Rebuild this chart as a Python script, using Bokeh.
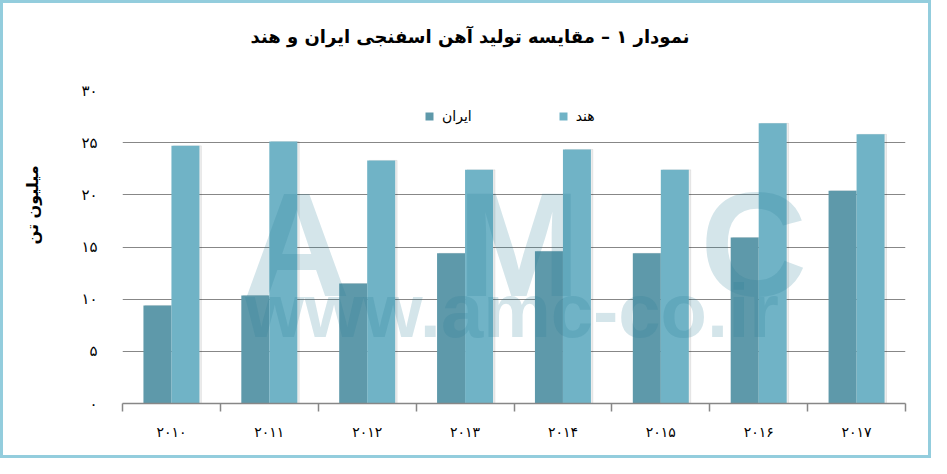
from bokeh.plotting import figure
from bokeh.models import (FixedTicker, Range1d, Legend, LegendItem, Label, Title)
from bokeh.embed import file_html
from bokeh.resources import INLINE

# ---- data ----
years = ["۲۰۱۰", "۲۰۱۱", "۲۰۱۲", "۲۰۱۳", "۲۰۱۴", "۲۰۱۵", "۲۰۱۶", "۲۰۱۷"]
iran = [9.4, 10.35, 11.5, 14.4, 14.6, 14.4, 15.9, 20.4]
india = [24.7, 25.1, 23.3, 22.4, 24.35, 22.4, 26.85, 25.8]
y_ticks = [0, 5, 10, 15, 20, 25, 30]
y_tick_labels = ["۰", "۵", "۱۰", "۱۵", "۲۰", "۲۵", "۳۰"]
series_names = ["ایران", "هند"]
title_text = "نمودار ۱ – مقایسه تولید آهن اسفنجی ایران و هند"
y_label = "میلیون تن"

IRAN_C = "#5e99aa"
INDIA_C = "#70b3c6"
FONT = "DejaVu Sans"

n = len(years)
idx = list(range(n))
bw = 0.286

p = figure(width=931, height=458, output_backend="svg", toolbar_location=None,
           x_range=Range1d(-0.5, n - 0.5), y_range=Range1d(0, 30),
           min_border_left=122, min_border_right=26, min_border_top=90,
           min_border_bottom=55)
p.styles = {"background": "white", "box-shadow": "inset 0 0 0 3px #93cddd"}
p.outline_line_color = None
p.background_fill_color = "white"
p.border_fill_alpha = 0

# bar shadows
p.vbar(x=[i - bw / 2 + 0.02 for i in idx], top=iran, width=bw, color="#000000", alpha=0.07)
p.vbar(x=[i + bw / 2 + 0.02 for i in idx], top=india, width=bw, color="#000000", alpha=0.07)

r_iran = p.vbar(x=[i - bw / 2 for i in idx], top=iran, width=bw, color=IRAN_C, line_color=None)
r_india = p.vbar(x=[i + bw / 2 for i in idx], top=india, width=bw, color=INDIA_C, line_color=None)

# watermark
wm_color = "#287d96"
for letter, cx in zip(["A", "M", "C"], [1.28, 3.55, 5.95]):
    p.add_layout(Label(x=cx, y=15.2, text=letter, text_align="center",
                       text_baseline="alphabetic", text_font="Liberation Sans",
                       text_font_style="bold", text_font_size="148px",
                       text_color=wm_color, text_alpha=0.2))
p.add_layout(Label(x=3.48, y=8.9, text="www.amc-co.ir", text_align="center",
                   text_baseline="alphabetic", text_font="Liberation Sans",
                   text_font_style="bold", text_font_size="76px",
                   text_color=wm_color, text_alpha=0.2))

# title: a blank spacer panel next to the frame, then the title above it
p.add_layout(Title(text=" ", text_font_size="14px", standoff=26), "above")
p.add_layout(Title(text=title_text, align="left", offset=128, standoff=0,
                   text_font=FONT, text_font_style="bold", text_font_size="18px",
                   text_color="#000000"), "above")

# y-axis title: spacer, then the label, raised above centre like the reference
p.add_layout(Title(text=" ", text_font_size="14px", standoff=19), "left")
p.add_layout(Title(text=y_label, align="left", offset=159, standoff=0,
                   text_font=FONT, text_font_style="bold", text_font_size="16px",
                   text_color="#000000"), "left")

# grid
p.xgrid.grid_line_color = None
p.ygrid.grid_line_color = "#878787"
p.ygrid.grid_line_width = 1
p.ygrid.ticker = FixedTicker(ticks=y_ticks[1:])

# y axis
p.yaxis.ticker = FixedTicker(ticks=y_ticks, minor_ticks=[])
p.yaxis.major_label_overrides = {v: s for v, s in zip(y_ticks, y_tick_labels)}
p.yaxis.axis_line_color = None
p.yaxis.major_tick_line_color = None
p.yaxis.minor_tick_line_color = None
p.yaxis.major_label_standoff = 19
p.yaxis.major_label_text_font = FONT
p.yaxis.major_label_text_font_size = "15px"
p.yaxis.major_label_text_color = "#000000"

# x axis
p.xaxis.ticker = FixedTicker(ticks=idx, minor_ticks=[i - 0.5 for i in range(n + 1)])
p.xaxis.major_label_overrides = {i: y for i, y in zip(idx, years)}
p.xaxis.axis_line_color = "#878787"
p.xaxis.axis_line_width = 1.5
p.xaxis.major_tick_line_color = None
p.xaxis.major_tick_out = 0
p.xaxis.major_tick_in = 0
p.xaxis.minor_tick_line_color = "#878787"
p.xaxis.minor_tick_line_width = 1.5
p.xaxis.minor_tick_out = 8
p.xaxis.minor_tick_in = 0
p.xaxis.major_label_standoff = 12
p.xaxis.major_label_text_font = FONT
p.xaxis.major_label_text_font_size = "14px"
p.xaxis.major_label_text_color = "#000000"

# legend
legend = Legend(items=[LegendItem(label=series_names[0], renderers=[r_iran]),
                       LegendItem(label=series_names[1], renderers=[r_india])],
                orientation="horizontal", location=(302, 279),
                glyph_width=10, glyph_height=10, label_standoff=8, spacing=86,
                padding=0, margin=0, border_line_color=None,
                background_fill_alpha=0,
                label_text_font=FONT, label_text_font_size="14px",
                label_text_color="#000000", label_height=14)
p.add_layout(legend)

open("out.html", "w").write(file_html(p, INLINE))
